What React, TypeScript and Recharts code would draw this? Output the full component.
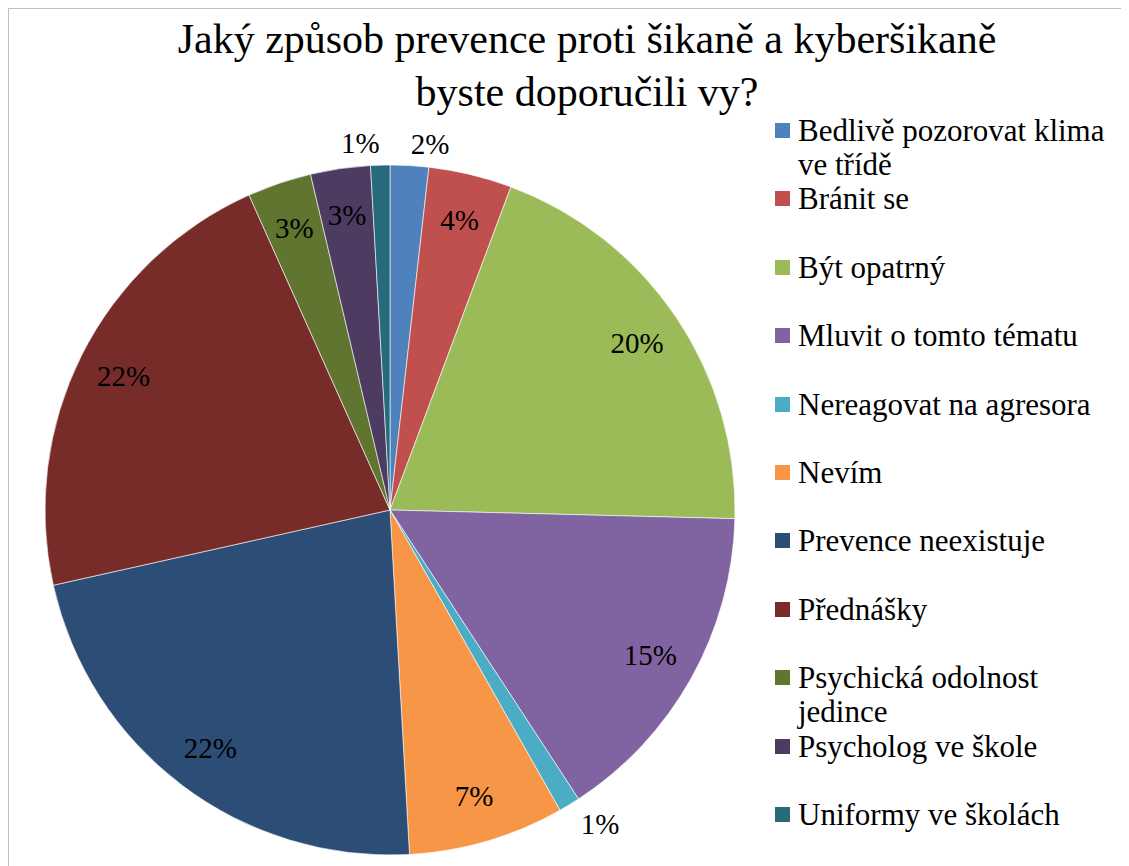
import React from "react";
import { Cell, Legend, Pie, PieChart } from "recharts";

// Podíly odpovědí (v %)
const categories = [
  "Bedlivě pozorovat klima ve třídě",
  "Bránit se",
  "Být opatrný",
  "Mluvit o tomto tématu",
  "Nereagovat na agresora",
  "Nevím",
  "Prevence neexistuje",
  "Přednášky",
  "Psychická odolnost jedince",
  "Psycholog ve škole",
  "Uniformy ve školách",
];
const shares = [1.8, 3.9, 19.7, 15.4, 1.0, 7.3, 22.4, 21.8, 3.0, 2.8, 0.9];
const colors = [
  "#4F81BD",
  "#C0504D",
  "#9BBB59",
  "#8064A2",
  "#4BACC6",
  "#F79646",
  "#2C4D75",
  "#772C2A",
  "#5F7530",
  "#4D3B62",
  "#276A7C",
];
const titleLines = [
  "Jaký způsob prevence proti šikaně a kyberšikaně",
  "byste doporučili vy?",
];

const data = categories.map((name, i) => ({ name, value: shares[i] }));
const FONT = "Times New Roman";
const RAD = Math.PI / 180;

function renderLabel(props: any) {
  const { cx, cy, midAngle, outerRadius, percent } = props;
  const pct = Math.round(percent * 100);
  // small slices get their label outside the pie
  const outside = pct <= 2;
  const r = outside ? outerRadius + 22 : outerRadius - 47;
  const cos = Math.cos(-midAngle * RAD);
  const x = cx + r * cos;
  const y = cy + r * Math.sin(-midAngle * RAD);
  const anchor = outside ? (cos >= 0 ? "start" : "end") : "middle";
  return (
    <text
      x={x}
      y={y}
      textAnchor={anchor}
      dominantBaseline="central"
      style={{ fontFamily: FONT }}
      fontSize={29}
      fill="#000"
    >
      {pct}%
    </text>
  );
}

function LegendList() {
  return (
    <div style={{ fontFamily: FONT, fontSize: 31, color: "#000" }}>
      {data.map((d, i) => (
        <div
          key={d.name}
          style={{ height: 68.4, display: "flex", alignItems: "flex-start" }}
        >
          <span
            style={{
              width: 15,
              height: 15,
              background: colors[i],
              marginTop: 9,
              marginRight: 8,
              flexShrink: 0,
            }}
          />
          <span style={{ lineHeight: "34px", width: 330 }}>{d.name}</span>
        </div>
      ))}
    </div>
  );
}

export default function App() {
  return (
    <div
      style={{
        position: "relative",
        width: 1120,
        height: 857,
        borderTop: "1px solid #bfbfbf",
        borderLeft: "1px solid #bfbfbf",
        background: "#fff",
        fontFamily: FONT,
      }}
    >
      <div
        style={{
          position: "absolute",
          left: 0,
          top: 4,
          width: 1156,
          textAlign: "center",
          fontFamily: FONT,
          fontSize: 42,
          lineHeight: "53px",
          color: "#000",
        }}
      >
        {titleLines.map((t) => (
          <div key={t}>{t}</div>
        ))}
      </div>
      <PieChart width={1120} height={857} style={{ fontFamily: FONT }}>
        <Pie
          data={data}
          dataKey="value"
          nameKey="name"
          cx={376}
          cy={496}
          outerRadius={345}
          startAngle={90}
          endAngle={-270}
          stroke="#ffffff"
          strokeWidth={0.6}
          label={renderLabel}
          labelLine={false}
          isAnimationActive={false}
        >
          {data.map((d, i) => (
            <Cell key={d.name} fill={colors[i]} />
          ))}
        </Pie>
        <Legend
          layout="vertical"
          verticalAlign="top"
          align="right"
          content={() => <LegendList />}
          wrapperStyle={{ left: 766, top: 105, width: 355 }}
        />
      </PieChart>
    </div>
  );
}
